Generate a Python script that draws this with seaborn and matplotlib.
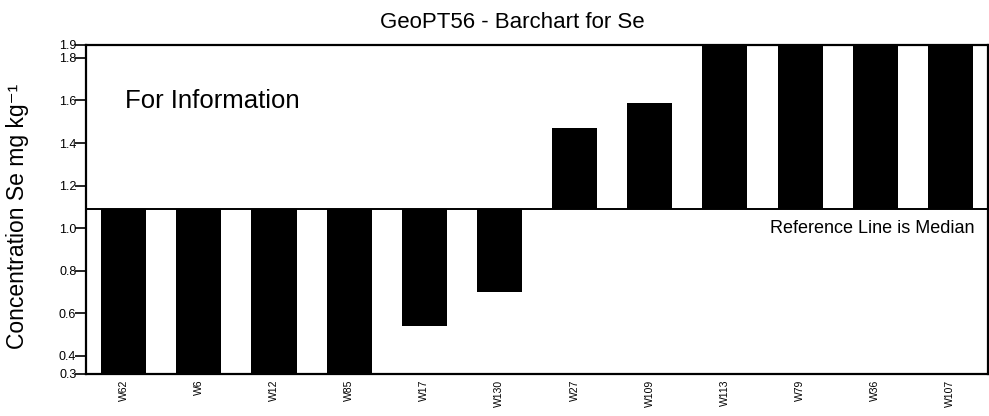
import numpy as np
import matplotlib
matplotlib.use("Agg")
import matplotlib.pyplot as plt
import seaborn as sns

# data
labs = ["W62", "W6", "W12", "W85", "W17", "W130", "W27", "W109", "W113", "W79", "W36", "W107"]
vals = [0.28, 0.28, 0.28, 0.28, 0.54, 0.70, 1.47, 1.59, 1.95, 1.95, 1.95, 1.95]
median = 1.09
ylo, yhi = 0.315, 1.861
yticks = [0.4, 0.6, 0.8, 1.0, 1.2, 1.4, 1.6, 1.8]

sns.set_theme(style="white")
plt.rcParams["font.family"] = ["Liberation Sans", "DejaVu Sans"]
plt.rcParams["text.color"] = "black"
plt.rcParams["xtick.color"] = "black"
plt.rcParams["ytick.color"] = "black"

fig = plt.figure(figsize=(9.89, 4.16), dpi=100)
ax = fig.add_axes([0.087, 0.101, 0.912, 0.791])

diff = [v - median for v in vals]
sns.barplot(x=labs, y=diff, bottom=median, color="black", width=0.6,
            saturation=1, linewidth=0, ax=ax)

ax.axhline(median, color="black", lw=1.4)
ax.set_xlim(-0.5, len(labs) - 0.5)
ax.set_ylim(ylo, yhi)

ticks = [ylo] + yticks + [yhi]
ax.set_yticks(ticks)
ax.set_yticklabels(["%.1f" % t for t in ticks])
ax.tick_params(axis="y", left=True, length=8, width=1.2, pad=-1, labelsize=9,
               colors="black")
ax.tick_params(axis="x", bottom=False, length=0, labelsize=7.5, pad=4, colors="black")
for t in ax.get_xticklabels():
    t.set_rotation(90)
    t.set_va("top")

for s in ax.spines.values():
    s.set_color("black")
    s.set_linewidth(1.6)

ax.set_ylabel("")
ax.set_xlabel("")
fig.text(0.018, 0.48, "Concentration Se mg kg⁻¹", rotation=90, fontsize=16.5,
         ha="center", va="center", color="black")
fig.text(0.518, 0.945, "GeoPT56 - Barchart for Se", fontsize=16, ha="center",
         va="center", color="black")

ax.text(0.043, 0.829, "For Information", transform=ax.transAxes, fontsize=18.5,
        va="center", color="black")
ax.text(0.985, 0.442, "Reference Line is Median", transform=ax.transAxes, fontsize=13,
        ha="right", va="center", color="black")

fig.savefig("out.png", dpi=100)
